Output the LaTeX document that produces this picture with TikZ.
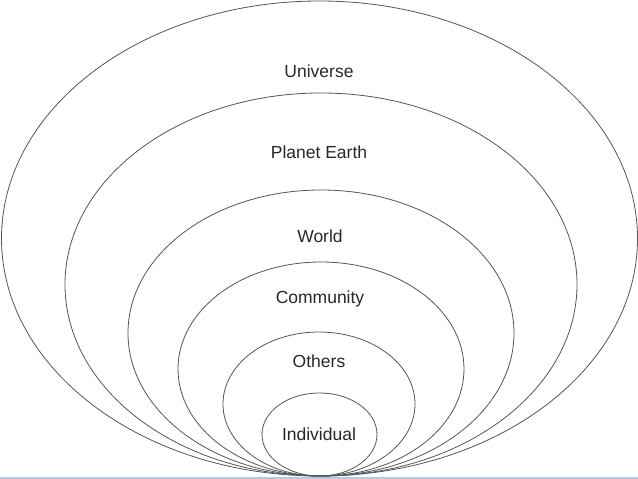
\documentclass[tikz,border=0pt]{standalone}
\usepackage{fontspec}
\setmainfont{Liberation Sans}
\usepackage{xcolor}
\definecolor{ringgray}{RGB}{85,85,85}
\definecolor{inkgray}{RGB}{40,40,40}
\definecolor{baseblue}{RGB}{184,200,222}
\usepackage{tikz}

\begin{document}
\begin{tikzpicture}[
  x=1pt,y=1pt,
  ring/.style={draw=ringgray,line width=0.8pt},
  lbl/.style={font=\fontsize{17.5}{20}\selectfont,text=inkgray,inner sep=1pt},
]
  \useasboundingbox (0,0) rectangle (638,479);
  \fill[white] (0,0) rectangle (638,479);

  %% nested circles, all touching at the bottom
  \foreach \cx/\rx/\ry in {319.5/318/237.5, 321/256/191.5, 321/193/143,
                           321/143/107, 319/96/72, 319.5/57.5/41.5}{%
    \draw[ring] (\cx,3+\ry) ellipse [x radius=\rx, y radius=\ry];
  }

  \node[lbl](universe)   at (319,408) {Universe};
  \node[lbl](earth)      at (319,327) {Planet Earth};
  \node[lbl](world)      at (320,243) {World};
  \node[lbl](community)  at (320,180) {Community};
  \node[lbl](others)     at (319,118) {Others};
  \node[lbl](individual) at (319,45)  {Individual};

  %% base strip
  \draw[baseblue,line width=1.6pt] (0,1.2) -- (638,1.2);
\end{tikzpicture}
\end{document}
